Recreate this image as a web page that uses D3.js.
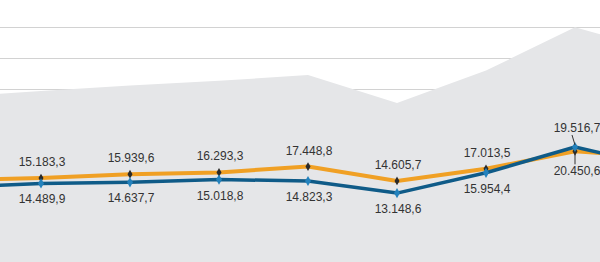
<!DOCTYPE html>
<html>
<head>
<meta charset="utf-8">
<script src="https://cdn.jsdelivr.net/npm/d3@7"></script>
<style>
  html, body { margin: 0; padding: 0; background: #fff; }
  svg { display: block; }
  .lbl { font-family: "Liberation Sans", Arial, sans-serif; font-size: 12px; fill: #333; }
</style>
</head>
<body>
<svg id="chart" width="600" height="262"></svg>
<script>
// periods (first and last fall just outside the visible crop)
const categories = ["P0", "P1", "P2", "P3", "P4", "P5", "P6", "P7", "P8"];
const orangeValues = [14800, 15183.3, 15939.6, 16293.3, 17448.8, 14605.7, 17013.5, 20450.6, 19280];
const blueValues   = [13900, 14489.9, 14637.7, 15018.8, 14823.3, 13148.6, 15954.4, 19516.7, 16700];
const gridTicks = [0, 5000, 10000, 15000, 20000, 25000, 30000, 35000, 40000];

const svg = d3.select("#chart");
const width = 600;

const fmt = d3.formatLocale({ decimal: ",", thousands: ".", grouping: [3], currency: ["", ""] }).format(",.1f");

const x = d3.scalePoint().domain(categories).range([-48, 664]);
// total (stacked) area scale
const yArea = d3.scaleLinear().domain([0, 40000]).range([275, 27]);
// line scales (separate axes)
const yOrange = d3.scaleLinear().domain([10000, 20000]).range([204.3, 153.6]);
const yBlue = d3.scaleLinear().domain([10000, 20000]).range([215.9, 143.5]);

const rows = categories.map((c, i) => ({
  cat: c, o: orangeValues[i], b: blueValues[i], total: orangeValues[i] + blueValues[i]
}));

// gridlines
svg.append("g").selectAll("line")
  .data(gridTicks)
  .join("line")
  .attr("x1", 0).attr("x2", width)
  .attr("y1", d => Math.round(yArea(d)) + 0.5)
  .attr("y2", d => Math.round(yArea(d)) + 0.5)
  .attr("stroke", "#d2d2d2")
  .attr("stroke-width", 1);

// gray total area
svg.append("path")
  .datum(rows)
  .attr("fill", "#e5e6e8")
  .attr("d", d3.area()
    .x(d => x(d.cat))
    .y0(yArea(0))
    .y1(d => yArea(d.total)));

// orange line
svg.append("path")
  .datum(rows)
  .attr("fill", "none")
  .attr("stroke", "#f0a024")
  .attr("stroke-width", 4)
  .attr("stroke-linejoin", "round")
  .attr("d", d3.line().x(d => x(d.cat)).y(d => yOrange(d.o)));

svg.append("g").selectAll("path")
  .data(rows)
  .join("path")
  .attr("transform", d => `translate(${x(d.cat)},${yOrange(d.o)})`)
  .attr("d", d3.symbol(d3.symbolDiamond, 22))
  .attr("fill", "#2a2a2a");

// blue line
svg.append("path")
  .datum(rows)
  .attr("fill", "none")
  .attr("stroke", "#0f5b88")
  .attr("stroke-width", 3.5)
  .attr("stroke-linejoin", "round")
  .attr("d", d3.line().x(d => x(d.cat)).y(d => yBlue(d.b)));

svg.append("g").selectAll("path")
  .data(rows)
  .join("path")
  .attr("transform", d => `translate(${x(d.cat)},${yBlue(d.b)})`)
  .attr("d", d3.symbol(d3.symbolDiamond, 30))
  .attr("fill", "#2382bd");

// labels: orange above, blue below, swapped with leader lines where blue sits higher
const labels = svg.append("g");
rows.filter(d => x(d.cat) > 0 && x(d.cat) < width).forEach(d => {
  const px = x(d.cat);
  const yo = yOrange(d.o), yb = yBlue(d.b);
  if (yb >= yo) {
    labels.append("text").attr("class", "lbl").attr("text-anchor", "middle")
      .attr("x", px + 1).attr("y", yo - 12).text(fmt(d.o));
    labels.append("text").attr("class", "lbl").attr("text-anchor", "middle")
      .attr("x", px + 1).attr("y", yb + 20).text(fmt(d.b));
  } else {
    const tb = yb - 15, to = yo + 24;
    labels.append("line")
      .attr("x1", px - 3).attr("y1", tb + 3).attr("x2", px).attr("y2", yb - 2)
      .attr("stroke", "#333").attr("stroke-width", 1);
    labels.append("line")
      .attr("x1", px).attr("y1", yo + 2).attr("x2", px).attr("y2", to - 11)
      .attr("stroke", "#333").attr("stroke-width", 1);
    labels.append("text").attr("class", "lbl").attr("text-anchor", "middle")
      .attr("x", px + 2).attr("y", tb).text(fmt(d.b));
    labels.append("text").attr("class", "lbl").attr("text-anchor", "middle")
      .attr("x", px + 2).attr("y", to).text(fmt(d.o));
  }
});
</script>
</body>
</html>
